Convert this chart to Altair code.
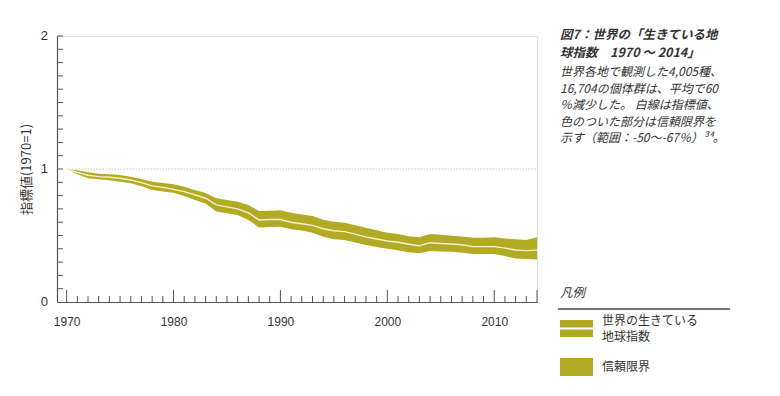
import altair as alt
import pandas as pd

years = list(range(1970, 2015))
index_vals = [1.00, 0.975, 0.953, 0.943, 0.938, 0.930, 0.917, 0.898, 0.873, 0.862,
              0.847, 0.830, 0.805, 0.780, 0.730, 0.715, 0.700, 0.670, 0.617, 0.620,
              0.620, 0.600, 0.588, 0.576, 0.551, 0.536, 0.529, 0.510, 0.490, 0.474,
              0.459, 0.449, 0.434, 0.423, 0.446, 0.440, 0.436, 0.430, 0.416, 0.416,
              0.416, 0.405, 0.391, 0.386, 0.390]
upper_vals = [1.00, 0.990, 0.975, 0.965, 0.960, 0.955, 0.942, 0.925, 0.905, 0.895,
              0.885, 0.867, 0.842, 0.820, 0.780, 0.767, 0.754, 0.730, 0.684, 0.687,
              0.690, 0.671, 0.657, 0.647, 0.618, 0.604, 0.596, 0.578, 0.559, 0.540,
              0.521, 0.511, 0.495, 0.486, 0.511, 0.505, 0.499, 0.493, 0.484, 0.484,
              0.486, 0.478, 0.471, 0.466, 0.487]
lower_vals = [1.00, 0.960, 0.930, 0.922, 0.915, 0.905, 0.892, 0.870, 0.842, 0.830,
              0.822, 0.797, 0.767, 0.740, 0.680, 0.667, 0.654, 0.617, 0.560, 0.563,
              0.566, 0.547, 0.537, 0.520, 0.490, 0.471, 0.466, 0.448, 0.429, 0.414,
              0.400, 0.390, 0.375, 0.366, 0.383, 0.380, 0.378, 0.370, 0.361, 0.361,
              0.361, 0.345, 0.328, 0.323, 0.320]

x_labels = [1970, 1980, 1990, 2000, 2010]
major_x_ticks = [1970, 1980, 1990, 2000, 2010, 2014]
minor_x_ticks = [y for y in years if y not in major_x_ticks]
y_labels = [0, 1, 2]
y_ticks = [round(i * 0.1, 1) for i in range(1, 21)]

title_lines = ["図7：世界の「生きている地", "球指数　1970 ～ 2014」"]
body_lines = ["世界各地で観測した4,005種、", "16,704の個体群は、平均で60",
              "％減少した。 白線は指標値、", "色のついた部分は信頼限界を",
              "示す（範囲：-50～-67％）³⁴。"]
legend_title = "凡例"
legend_item1 = ["世界の生きている", "地球指数"]
legend_item2 = "信頼限界"

BAND = "#b3aa24"
W, H = 480, 266
FONT = "Noto Sans CJK JP"
FS = 12

df = pd.DataFrame({"year": years, "index": index_vals, "upper": upper_vals, "lower": lower_vals})

xs = alt.Scale(domain=[1969.1, 2014], nice=False, zero=False)
ys = alt.Scale(domain=[0, 2], nice=False)

base = alt.Chart(df)

band = base.mark_area(color=BAND, opacity=1).encode(
    x=alt.X("year:Q", scale=xs, title=None,
            axis=alt.Axis(values=x_labels, format="d", ticks=False, grid=False,
                          domainColor="#555", domainWidth=1.2, labelFont="Liberation Sans",
                          labelFontSize=12, labelColor="#333", labelPadding=14)),
    y=alt.Y("upper:Q", scale=ys,
            axis=alt.Axis(values=y_labels, labels=False, ticks=False, grid=False,
                          domainColor="#555", domainWidth=1.2,
                          title="指標値(1970=1)", titleFont=FONT, titleFontSize=13,
                          titleFontWeight="normal", titleColor="#333",
                          titleX=-24, titleY=H / 2, titleAngle=-90,
                          titleAlign="center", titleBaseline="bottom")),
    y2="lower:Q",
)

line = base.mark_line(color="#f4f0cf", strokeWidth=1.4).encode(
    x=alt.X("year:Q", scale=xs), y=alt.Y("index:Q", scale=ys))

ref = alt.Chart(pd.DataFrame({"x1": [1970], "x2": [2014], "v": [1]})).mark_rule(
    color="#aaa", strokeDash=[1, 2], strokeWidth=1).encode(
    x=alt.X("x1:Q", scale=xs), x2="x2:Q", y=alt.Y("v:Q", scale=ys))

ytick = alt.Chart(pd.DataFrame({"v": y_ticks})).mark_rule(color="#555", strokeWidth=1).encode(
    y=alt.Y("v:Q", scale=ys), x=alt.value(0), x2=alt.value(6))

ylab = alt.Chart(pd.DataFrame({"v": y_labels})).mark_text(
    align="right", baseline="middle", font="Liberation Sans", fontSize=13,
    color="#333").encode(
    y=alt.Y("v:Q", scale=ys), x=alt.value(-9), text=alt.Text("v:Q", format="d"))

xminor = alt.Chart(pd.DataFrame({"yr": minor_x_ticks})).mark_rule(color="#555", strokeWidth=1).encode(
    x=alt.X("yr:Q", scale=xs), y=alt.value(H), y2=alt.value(H - 6))

xmajor = alt.Chart(pd.DataFrame({"yr": major_x_ticks})).mark_rule(color="#555", strokeWidth=1).encode(
    x=alt.X("yr:Q", scale=xs), y=alt.value(H), y2=alt.value(H - 12))

# right-side text block
TX = 503
title_df = pd.DataFrame({"t": title_lines, "yy": [-1, 17]})
title_txt = alt.Chart(title_df).mark_text(
    align="left", baseline="middle", font=FONT, fontSize=12.5, fontWeight="bold",
    fontStyle="italic", color="#333").encode(
    text="t:N", x=alt.value(TX), y=alt.Y("yy:Q", scale=None))

body_df = pd.DataFrame({"t": body_lines, "yy": [36, 52.5, 69, 85.5, 102]})
body_txt = alt.Chart(body_df).mark_text(
    align="left", baseline="middle", font=FONT, fontSize=FS, fontStyle="italic",
    color="#333").encode(text="t:N", x=alt.value(TX), y=alt.Y("yy:Q", scale=None))

leg_title = alt.Chart(pd.DataFrame({"t": [legend_title]})).mark_text(
    align="left", baseline="middle", font=FONT, fontSize=12.5, fontStyle="italic",
    color="#333").encode(text="t:N", x=alt.value(TX), y=alt.value(257))

leg_rule = alt.Chart(pd.DataFrame({"a": [0]})).mark_rule(color="#444", strokeWidth=1.5).encode(
    x=alt.value(501), x2=alt.value(673), y=alt.value(273))

sw1 = alt.Chart(pd.DataFrame({"a": [0]})).mark_rect(color=BAND).encode(
    x=alt.value(503), x2=alt.value(536), y=alt.value(284), y2=alt.value(301))
sw1_line = alt.Chart(pd.DataFrame({"a": [0]})).mark_rule(color="#ffffff", strokeWidth=2).encode(
    x=alt.value(503), x2=alt.value(536), y=alt.value(292.5))
sw2 = alt.Chart(pd.DataFrame({"a": [0]})).mark_rect(color=BAND).encode(
    x=alt.value(503), x2=alt.value(536), y=alt.value(322), y2=alt.value(340))

leg1_df = pd.DataFrame({"t": legend_item1, "yy": [284.5, 301]})
leg1_txt = alt.Chart(leg1_df).mark_text(
    align="left", baseline="middle", font=FONT, fontSize=FS, color="#333").encode(
    text="t:N", x=alt.value(545), y=alt.Y("yy:Q", scale=None))
leg2_txt = alt.Chart(pd.DataFrame({"t": [legend_item2]})).mark_text(
    align="left", baseline="middle", font=FONT, fontSize=FS, color="#333").encode(
    text="t:N", x=alt.value(545), y=alt.value(331))

chart = alt.layer(
    band, ref, line, ytick, ylab, xminor, xmajor,
    title_txt, body_txt, leg_title, leg_rule, sw1, sw1_line, sw2, leg1_txt, leg2_txt
).properties(
    width=W, height=H,
    padding={"left": 49, "top": 28, "right": 235, "bottom": 86},
    autosize=alt.AutoSizeParams(type="none"),
).configure_view(stroke=None).configure(background="white")

chart.save("out.html", embed_options={"renderer": "svg", "actions": False})
